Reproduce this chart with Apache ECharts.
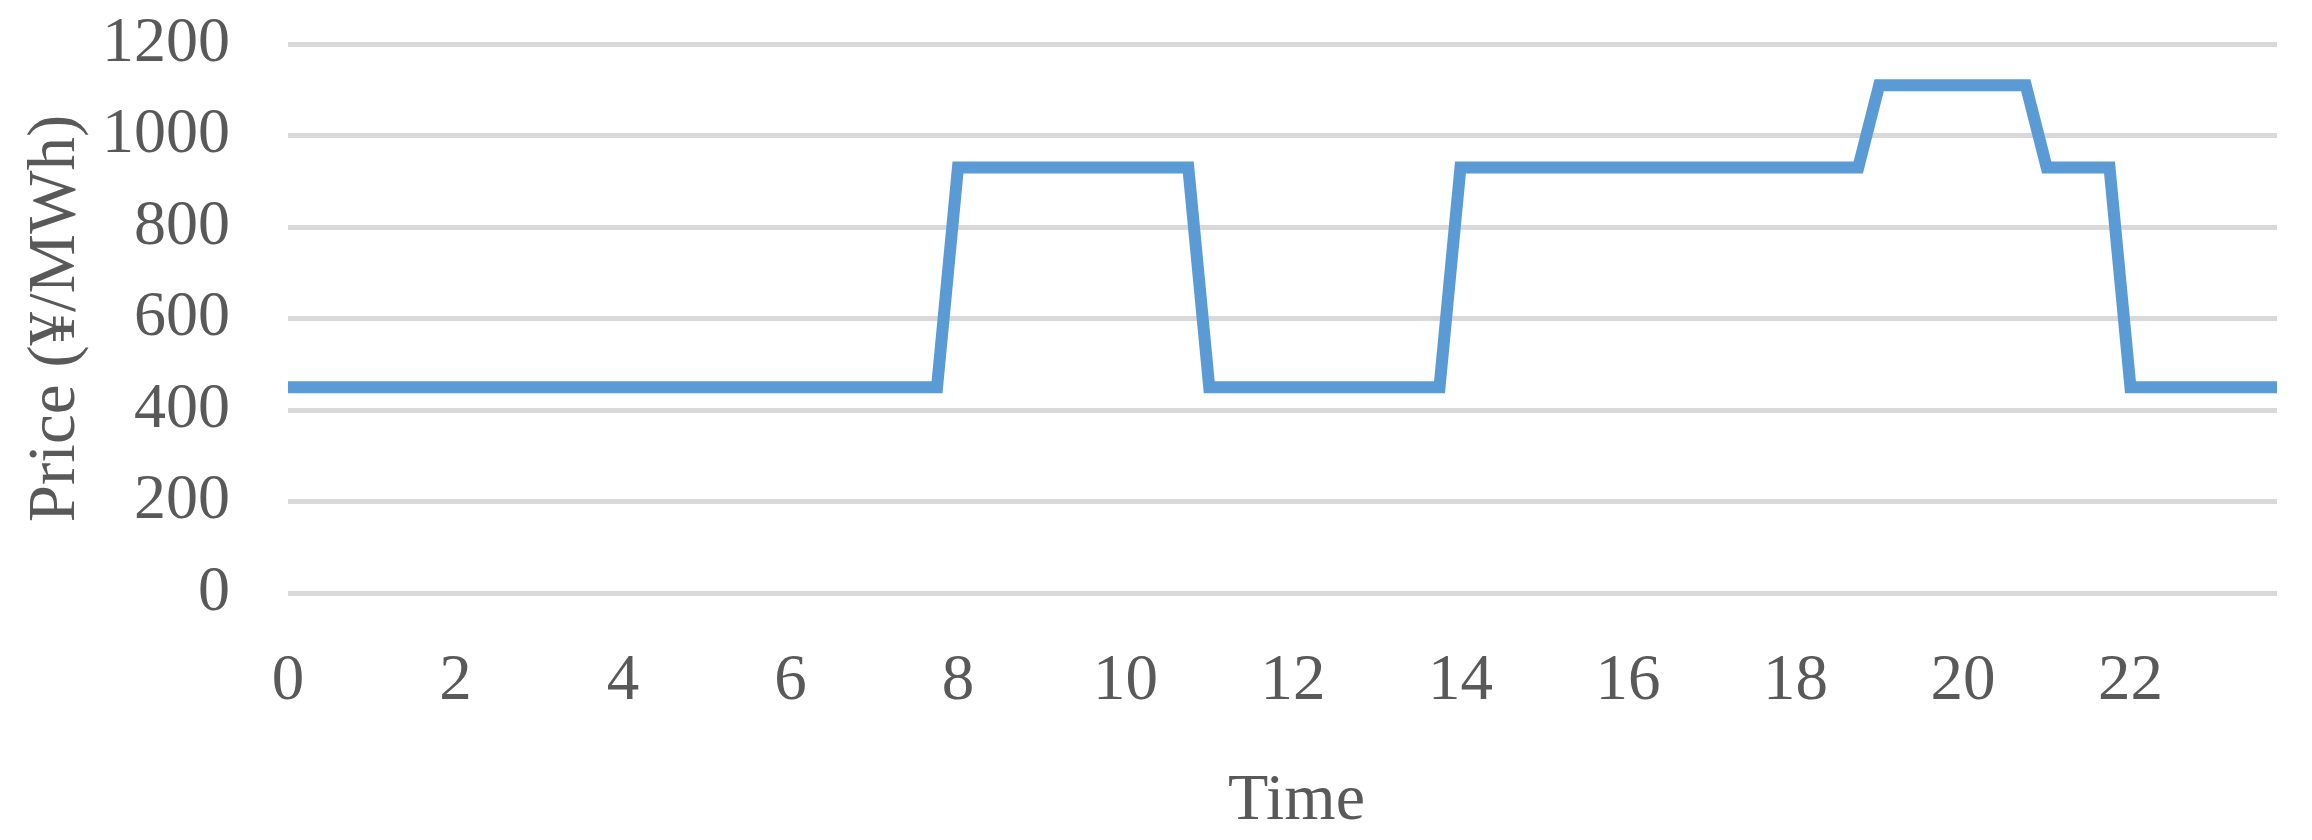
<!DOCTYPE html>
<html>
<head>
<meta charset="utf-8">
<script src="https://cdn.jsdelivr.net/npm/echarts@6/dist/echarts.min.js"></script>
<style>html,body{margin:0;padding:0;background:#fff;}#c{width:2312px;height:840px;}</style>
</head>
<body>
<div id="c"></div>
<script>
const times = [
  0, 0.25, 0.5, 0.75, 1, 1.25, 1.5, 1.75, 2, 2.25, 2.5, 2.75,
  3, 3.25, 3.5, 3.75, 4, 4.25, 4.5, 4.75, 5, 5.25, 5.5, 5.75,
  6, 6.25, 6.5, 6.75, 7, 7.25, 7.5, 7.75, 8, 8.25, 8.5, 8.75,
  9, 9.25, 9.5, 9.75, 10, 10.25, 10.5, 10.75, 11, 11.25, 11.5, 11.75,
  12, 12.25, 12.5, 12.75, 13, 13.25, 13.5, 13.75, 14, 14.25, 14.5, 14.75,
  15, 15.25, 15.5, 15.75, 16, 16.25, 16.5, 16.75, 17, 17.25, 17.5, 17.75,
  18, 18.25, 18.5, 18.75, 19, 19.25, 19.5, 19.75, 20, 20.25, 20.5, 20.75,
  21, 21.25, 21.5, 21.75, 22, 22.25, 22.5, 22.75, 23, 23.25, 23.5, 23.75
];
const prices = [
  450, 450, 450, 450, 450, 450, 450, 450, 450, 450, 450, 450,
  450, 450, 450, 450, 450, 450, 450, 450, 450, 450, 450, 450,
  450, 450, 450, 450, 450, 450, 450, 450, 930, 930, 930, 930,
  930, 930, 930, 930, 930, 930, 930, 930, 450, 450, 450, 450,
  450, 450, 450, 450, 450, 450, 450, 450, 930, 930, 930, 930,
  930, 930, 930, 930, 930, 930, 930, 930, 930, 930, 930, 930,
  930, 930, 930, 930, 1110, 1110, 1110, 1110, 1110, 1110, 1110, 1110,
  930, 930, 930, 930, 450, 450, 450, 450, 450, 450, 450, 450
];
const xTicks = [0, 2, 4, 6, 8, 10, 12, 14, 16, 18, 20, 22];
const yTicks = [0, 200, 400, 600, 800, 1000, 1200];
const xName = 'Time';
const yName = 'Price (¥/MWh)';

const font = '"Liberation Serif", "Times New Roman", serif';
const chart = echarts.init(document.getElementById('c'), null, {renderer: 'canvas'});
chart.setOption({
  animation: false,
  backgroundColor: '#ffffff',
  grid: {left: 288, right: 35, top: 44, bottom: 235, containLabel: false},
  xAxis: {
    type: 'value',
    min: xTicks[0],
    max: times[times.length - 1],
    interval: 2,
    name: xName,
    nameLocation: 'middle',
    nameGap: 176,
    nameTextStyle: {fontFamily: font, fontSize: 66, color: '#595959', padding: [0, 0, 0, 28]},
    axisLine: {show: false},
    axisTick: {show: false},
    splitLine: {show: false},
    axisLabel: {
      fontFamily: font, fontSize: 65, color: '#595959', margin: 56,
      showMaxLabel: false,
      formatter: v => xTicks.indexOf(v) >= 0 ? String(v) : ''
    }
  },
  yAxis: {
    type: 'value',
    min: yTicks[0],
    max: yTicks[yTicks.length - 1],
    interval: 200,
    name: yName,
    nameLocation: 'middle',
    nameGap: 198,
    nameTextStyle: {fontFamily: font, fontSize: 67, color: '#595959'},
    axisLine: {show: false},
    axisTick: {show: false},
    splitLine: {show: true, lineStyle: {color: '#D9D9D9', width: 5}},
    axisLabel: {
      fontFamily: font, fontSize: 64, color: '#595959', margin: 58,
      formatter: v => String(v)
    }
  },
  series: [{
    type: 'line',
    data: times.map((t, i) => [t, prices[i]]),
    showSymbol: false,
    symbol: 'none',
    lineStyle: {color: '#5B9BD5', width: 12, cap: 'butt', join: 'miter'},
    itemStyle: {color: '#5B9BD5'}
  }]
});
</script>
</body>
</html>
